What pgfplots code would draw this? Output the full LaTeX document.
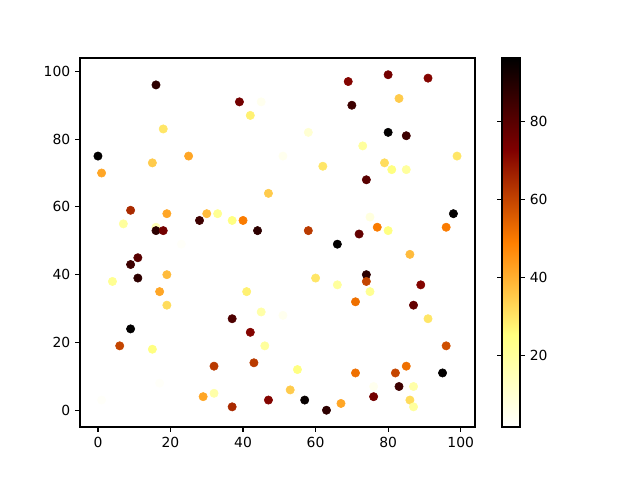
\documentclass[border=0pt]{standalone}
\usepackage{pgfplots}
\pgfplotsset{compat=1.18}
\usepackage{fontspec}
\setmainfont{DejaVu Sans}
\pgfplotsset{colormap={afmhotr}{rgb=(1,1,1) rgb=(1,1,0.5) rgb=(1,0.5,0) rgb=(0.5,0,0) rgb=(0,0,0)}}
\begin{document}
\begin{tikzpicture}
\path[use as bounding box] (-57.6pt,-38.16pt) rectangle (403.2pt,307.44pt);
\begin{axis}[
  at={(0,0)}, anchor=south west,
  scale only axis, width=284.4pt, height=265.7pt,
  xmin=-4.95, xmax=103.95, ymin=-4.95, ymax=103.95,
  xtick={0,20,40,60,80,100}, ytick={0,20,40,60,80,100},
  tick align=outside, xtick pos=bottom, ytick pos=left,
  major tick length=3.5pt,
  every tick/.style={black, line width=0.8pt},
  axis line style={line width=0.8pt},
  tick label style={font=\fontsize{10}{12}\selectfont},
  /pgf/number format/assume math mode=true,
  colormap name=afmhotr,
  point meta min=1.8, point meta max=96.3,
  colorbar,
  colorbar shift/.style={xshift=19.4pt},
  colorbar style={
    at={(parent axis.north east)}, anchor=north west,
    width=13pt,
    ytick={20,40,60,80},
    tick align=outside,
    major tick length=3.5pt,
    every tick/.style={black, line width=0.8pt},
    axis line style={line width=0.8pt},
    tick label style={font=\fontsize{10}{12}\selectfont},
    /pgf/number format/assume math mode=true,
  },
]
\addplot[scatter, only marks, mark=*, mark size=3pt, scatter src=explicit,
  scatter/use mapped color={draw=mapped color, fill=mapped color}]
table[meta=c] {
x y c
0 75 96
1 70 42
16 96 88
39 91 75
45 91 5
42 87 28
18 83 30
25 75 42
15 73 35
51 75 5
47 64 35
9 59 65
7 55 20
19 58 42
30 58 38
33 58 22
28 56 85
37 56 25
40 56 50
16 54 15
16 53 88
18 53 75
44 53 88
23 49 3
11 45 80
9 43 85
11 39 88
4 38 22
19 40 38
17 35 42
19 31 32
41 35 28
45 29 18
37 27 82
42 23 72
46 19 20
9 24 96
6 19 60
15 18 25
32 13 62
43 14 62
17 8 3
1 3 3
29 4 42
32 5 18
37 1 65
47 3 72
80 99 75
69 97 72
91 98 72
70 90 85
83 92 35
58 82 10
80 82 96
85 81 85
73 78 20
99 75 30
62 72 30
79 73 32
81 71 25
85 71 20
74 68 80
98 58 96
75 57 8
58 53 62
77 54 50
80 53 25
72 52 78
96 54 50
66 49 96
86 46 38
74 40 88
74 38 60
60 39 30
66 37 20
75 35 22
89 37 72
71 32 52
87 31 78
51 28 5
91 27 30
96 19 58
55 12 25
71 11 52
82 11 60
85 13 52
95 11 96
76 7 5
83 7 85
87 7 18
54 5 3
53 6 35
57 3 95
63 0 88
67 2 42
76 4 75
86 3 32
87 1 20
};
\end{axis}
\end{tikzpicture}
\end{document}
